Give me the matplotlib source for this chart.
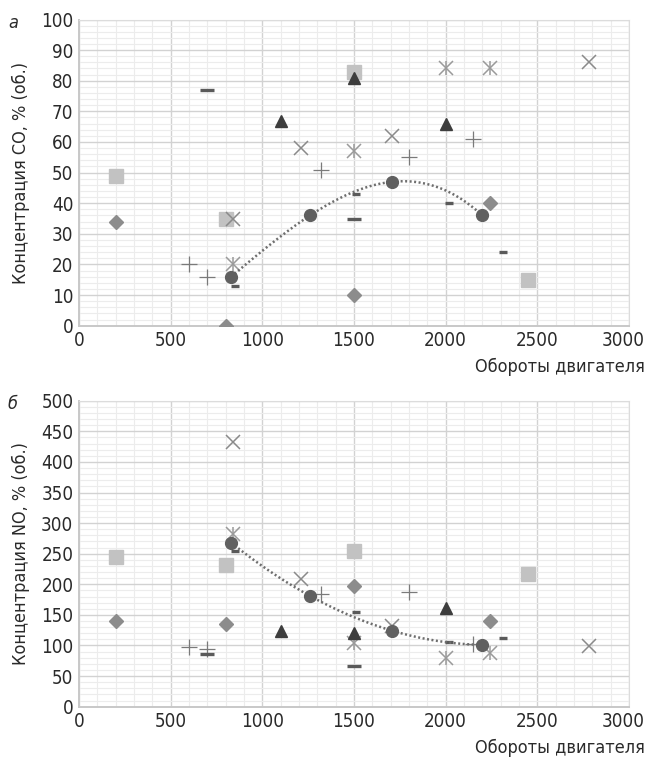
import numpy as np
import matplotlib
matplotlib.use("Agg")
import matplotlib.pyplot as plt
import matplotlib.transforms as mtransforms
from matplotlib.ticker import MultipleLocator

plt.rcParams["font.family"] = ["DejaVu Sans"]
plt.rcParams["font.stretch"] = "condensed"

# --- data: engine speed (rpm) vs CO and NO concentration ---
x_diamond = [200, 800, 1500, 2240]
co_diamond = [34, 0, 10, 40]
no_diamond = [140, 135, 198, 140]

x_square = [200, 800, 1500, 2450]
co_square = [49, 35, 83, 15]
no_square = [245, 232, 255, 217]

x_triangle = [1100, 1500, 2000]
co_triangle = [67, 81, 66]
no_triangle = [123, 120, 162]

x_cross = [840, 1210, 1710, 2780]
co_cross = [35, 58, 62, 86]
no_cross = [432, 208, 132, 99]

x_star = [840, 1500, 2000, 2240]
co_star = [20, 57, 84, 84]
no_star = [283, 104, 80, 87]

x_plus = [600, 700, 1320, 1800, 2150]
co_plus = [20, 16, 51, 55, 61]
no_plus = [98, 94, 184, 187, 102]

x_longdash = [700, 1500]
co_longdash = [77, 35]
no_longdash = [86, 67]

x_shortdash = [850, 1510, 2020, 2310]
co_shortdash = [13, 43, 40, 24]
no_shortdash = [254, 154, 106, 112]

x_circle = [830, 1260, 1710, 2200]
co_circle = [16, 36, 47, 36]
no_circle = [268, 181, 124, 101]

x_ticks = [0, 500, 1000, 1500, 2000, 2500, 3000]
x_label = "Обороты двигателя"
co_label = "Концентрация CO, % (об.)"
no_label = "Концентрация NO, % (об.)"

TICK_FS = 13.5
LABEL_FS = 13


def draw_panel(fig, ax, co, ymax, ystep, yminor, ylabel, letter):
    d, s, t, c, st, p, ld, sd, ci = co
    ax.plot(x_square, s, ls="none", marker="s", ms=9.5, color="#c2c2c2", zorder=3)
    ax.plot(x_diamond, d, ls="none", marker="D", ms=7, color="#8c8c8c", zorder=3)
    ax.plot(x_cross, c, ls="none", marker="x", ms=10, mew=1.1, color="#8a8a8a", zorder=3)
    ax.plot(x_star, st, ls="none", marker="x", ms=10, mew=1.1, color="#9a9a9a", zorder=3)
    ax.plot(x_star, st, ls="none", marker="|", ms=10, mew=1.1, color="#9a9a9a", zorder=3)
    ax.plot(x_plus, p, ls="none", marker="+", ms=11, mew=0.9, color="#7a7a7a", zorder=3)
    ax.plot(x_triangle, t, ls="none", marker="^", ms=8.5, color="#3d3d3d", zorder=4)
    ax.plot(x_longdash, ld, ls="none", marker="_", ms=10, mew=2.4, color="#5a5a5a", zorder=3)
    ax.plot(x_shortdash, sd, ls="none", marker="_", ms=5.5, mew=2.4, color="#5a5a5a", zorder=3)
    ax.plot(x_circle, ci, ls="none", marker="o", ms=8.5, color="#606060", zorder=5)

    # polynomial trend through the circle series
    coef = np.polyfit(x_circle, ci, 3)
    xs = np.linspace(min(x_circle), max(x_circle), 200)
    ax.plot(xs, np.polyval(coef, xs), color="#6e6e6e", lw=1.8,
            ls=(0, (0.8, 1.0)), zorder=4)

    ax.set_xlim(0, 3000)
    ax.set_ylim(0, ymax)
    ax.set_xticks(x_ticks)
    ax.xaxis.set_minor_locator(MultipleLocator(100))
    ax.yaxis.set_major_locator(MultipleLocator(ystep))
    ax.yaxis.set_minor_locator(MultipleLocator(yminor))
    ax.grid(which="major", color="#d2d2d2", lw=1.0)
    ax.grid(which="minor", color="#ececec", lw=0.8)
    ax.set_axisbelow(True)
    ax.tick_params(which="both", length=0, labelsize=TICK_FS, colors="#2a2a2a", pad=4)
    # keep the last x tick label inside the figure
    last = ax.get_xticklabels()[-1]
    last.set_transform(last.get_transform() +
                       mtransforms.ScaledTranslation(-6 / 100, 0, fig.dpi_scale_trans))
    for side in ("top", "right"):
        ax.spines[side].set_color("#dcdcdc")
        ax.spines[side].set_linewidth(0.8)
    for side in ("left", "bottom"):
        ax.spines[side].set_color("#c8c8c8")
        ax.spines[side].set_linewidth(1.4)
    ax.set_ylabel(ylabel, fontsize=LABEL_FS, color="#2a2a2a", labelpad=8)
    ax.text(1.029, -0.134, x_label, transform=ax.transAxes, fontsize=LABEL_FS,
            color="#2a2a2a", ha="right", va="center")
    ax.text(-0.12, 0.99, letter, transform=ax.transAxes, fontsize=13,
            style="italic", color="#2a2a2a", ha="center", va="center")


fig = plt.figure(figsize=(6.49, 7.62), dpi=100)
ax1 = fig.add_axes([0.1217, 0.5726, 0.8475, 0.4018])
ax2 = fig.add_axes([0.1217, 0.0726, 0.8475, 0.4015])

draw_panel(fig, ax1, (co_diamond, co_square, co_triangle, co_cross, co_star, co_plus,
                      co_longdash, co_shortdash, co_circle), 100, 10, 2, co_label, "а")
draw_panel(fig, ax2, (no_diamond, no_square, no_triangle, no_cross, no_star, no_plus,
                      no_longdash, no_shortdash, no_circle), 500, 50, 10, no_label, "б")

fig.savefig("out.png", dpi=100)
